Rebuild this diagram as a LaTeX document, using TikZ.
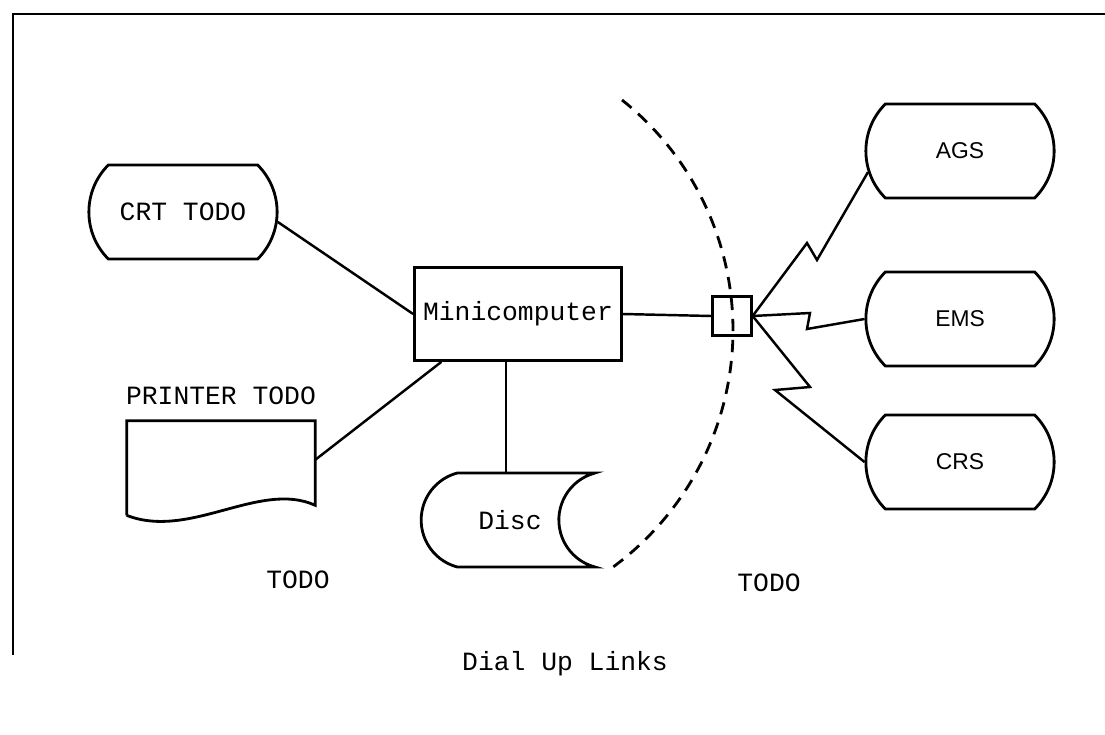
\documentclass[tikz,border=0pt]{standalone}
\usepackage{fontspec}
\setmainfont{Liberation Mono}
\newfontfamily\hostfont{Liberation Sans}
\usetikzlibrary{shapes,positioning,calc}

\begin{document}
\begin{tikzpicture}[x=0.02cm, y=-0.02cm, node distance=1.44cm,
    every node/.style={font=\fontsize{15}{18}\selectfont},
    term/.style={draw, rounded rectangle, rounded rectangle arc length=90, minimum width=4cm, minimum height=1.88cm, line width=1.6pt},
    hostname/.style={font=\hostfont\fontsize{13}{16}\selectfont},
    link/.style={line width=1.4pt}]
    \useasboundingbox (0,0) rectangle (1105,734);
    % page frame
    \draw[line width=0.6pt] (13,655) -- (13,14) -- (1105,14);

    \node (crt) [term] at (183,212) {CRT TODO};
    \node (mini) [draw, rectangle, line width=1.6pt, minimum width=4.14cm, minimum height=1.86cm, inner sep=0pt] at (518,314) {Minicomputer};
    \node (prn) [minimum width=3.76cm, minimum height=1.88cm] at (221,468) {};
    \node (prnlabel) [above of=prn] {PRINTER TODO};
    \node (disc) [draw, rounded rectangle, rounded rectangle arc length=150, rounded rectangle right arc=concave, minimum width=3.71cm, minimum height=1.88cm, line width=1.6pt, label={[xshift=0.4cm]center:Disc}] at (490,520) {};
    \node (sw) [draw, rectangle, minimum size=0.77cm, line width=1.6pt] at (732,316) {};
    \node (ags) [term, hostname] at (960,151) {AGS};
    \node (ems) [term, hostname] at (960,319) {EMS};
    \node (crs) [term, hostname] at (960,462) {CRS};

    % printer sheet, torn bottom edge
    \draw[line width=1.6pt] (prn.south west) -- (prn.north west) -- (prn.north east) -- ([yshift=0.2cm]prn.south east) .. controls (260,480) and (190,540) .. (prn.south west);

    \draw[link] (crt.-6) -- (mini.west);
    \draw[link] (prn.5) -- (mini.212);
    \draw[link] ([xshift=0.32cm]disc.north) -- ([xshift=0.32cm]disc.north |- mini.south);
    \draw[link] (mini.east) -- (sw.west);
    % dial up links
    \draw[link] (sw.east) -- (807,243) -- (817,260) -- (ags.193);
    \draw[link] (sw.east) -- (810,313) -- (807,329) -- (ems.west);
    \draw[link] (sw.east) -- (810,387) -- (775,390) -- (crs.west);

    % boundary
    \draw[line width=1.6pt, dash pattern=on 7pt off 5pt] (622,100) arc[start angle=-51.5, end angle=55, radius=294];

    \node (todoleft) at (298,580) {TODO};
    \node (todoright) at (769,583) {TODO};
    \node (caption) at (565,664) {Dial Up Links};
\end{tikzpicture}
\end{document}
